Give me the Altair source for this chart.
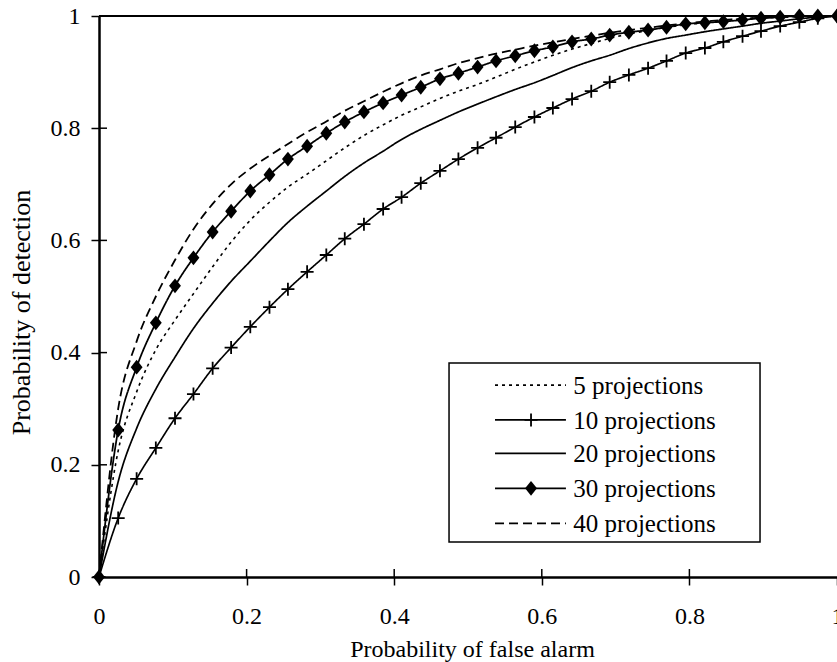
import altair as alt
import pandas as pd

# ---------------- data ----------------
series_names = ["5 projections", "10 projections", "20 projections",
                "30 projections", "40 projections"]

fpa = [0.000, 0.026, 0.051, 0.077, 0.103, 0.128, 0.154, 0.179, 0.205, 0.231,
       0.256, 0.282, 0.308, 0.333, 0.359, 0.385, 0.410, 0.436, 0.462, 0.487,
       0.513, 0.538, 0.564, 0.590, 0.615, 0.641, 0.667, 0.692, 0.718, 0.744,
       0.769, 0.795, 0.821, 0.846, 0.872, 0.897, 0.923, 0.949, 0.974, 1.000]

pd_5 = [0.000, 0.225, 0.330, 0.405, 0.458, 0.505, 0.553, 0.597, 0.636, 0.668,
        0.695, 0.718, 0.742, 0.765, 0.787, 0.806, 0.823, 0.838, 0.853, 0.866,
        0.878, 0.891, 0.905, 0.918, 0.930, 0.941, 0.951, 0.960, 0.968, 0.974,
        0.980, 0.984, 0.988, 0.992, 0.995, 0.997, 0.998, 0.999, 1.000, 1.000]

pd_10 = [0.000, 0.105, 0.175, 0.230, 0.283, 0.326, 0.372, 0.409, 0.446, 0.481,
         0.513, 0.544, 0.574, 0.603, 0.629, 0.656, 0.677, 0.702, 0.724, 0.745,
         0.765, 0.783, 0.802, 0.820, 0.836, 0.852, 0.866, 0.882, 0.895, 0.907,
         0.920, 0.934, 0.943, 0.954, 0.964, 0.973, 0.982, 0.989, 0.996, 1.000]

pd_20 = [0.000, 0.170, 0.265, 0.335, 0.392, 0.443, 0.488, 0.527, 0.563, 0.599,
         0.632, 0.661, 0.688, 0.714, 0.738, 0.759, 0.780, 0.798, 0.814, 0.829,
         0.843, 0.856, 0.869, 0.881, 0.894, 0.908, 0.920, 0.930, 0.942, 0.952,
         0.960, 0.966, 0.972, 0.977, 0.982, 0.987, 0.991, 0.995, 0.998, 1.000]

pd_30 = [0.000, 0.262, 0.374, 0.453, 0.519, 0.569, 0.615, 0.652, 0.688, 0.717,
         0.745, 0.768, 0.791, 0.811, 0.829, 0.845, 0.859, 0.873, 0.888, 0.898,
         0.909, 0.920, 0.929, 0.938, 0.945, 0.954, 0.959, 0.966, 0.971, 0.975,
         0.980, 0.986, 0.988, 0.990, 0.993, 0.996, 0.998, 1.000, 1.000, 1.000]

pd_40 = [0.000, 0.300, 0.420, 0.500, 0.565, 0.620, 0.665, 0.700, 0.728, 0.751,
         0.772, 0.793, 0.812, 0.831, 0.848, 0.865, 0.880, 0.894, 0.905, 0.916,
         0.925, 0.933, 0.940, 0.947, 0.953, 0.959, 0.965, 0.970, 0.975, 0.979,
         0.983, 0.987, 0.990, 0.993, 0.995, 0.997, 0.998, 0.999, 1.000, 1.000]

tick_values = [0, 0.2, 0.4, 0.6, 0.8, 1]

# ---------------- layout / style ----------------
W, H = 738, 561
FONT = "Liberation Serif"
dash_range = [[3, 4], [1, 0], [1, 0], [1, 0], [9, 5]]
width_range = [1.6, 1.8, 1.5, 1.8, 1.8]
PLUS = "M-1,0L1,0M0,-1L0,1"
DIAMOND = "M-0.8,0L0,-1L0.8,0L0,1Z"

# legend placement (in plot data units)
leg_box = dict(x=0.4743, x2=0.8957, y=0.3815, y2=0.0624)
leg_rows = [0.342, 0.280, 0.2205, 0.158, 0.0957]
leg_line_x1, leg_line_x2, leg_marker_x, leg_text_x = 0.5366, 0.6327, 0.5854, 0.6427

rows = []
for name, vals in zip(series_names, [pd_5, pd_10, pd_20, pd_30, pd_40]):
    for xv, yv in zip(fpa, vals):
        rows.append({"series": name, "fpa": xv, "pd": yv})
df = pd.DataFrame(rows)

leg_df = pd.DataFrame({
    "series": series_names,
    "ly": leg_rows,
    "lx1": [leg_line_x1] * 5,
    "lx2": [leg_line_x2] * 5,
    "mx": [leg_marker_x] * 5,
    "tx": [leg_text_x] * 5,
})

dash_scale = alt.Scale(domain=series_names, range=dash_range)
sw_scale = alt.Scale(domain=series_names, range=width_range)

xscale = alt.Scale(domain=[0, 1], nice=False, zero=True)
yscale = alt.Scale(domain=[0, 1], nice=False, zero=True)

common_axis = dict(
    values=tick_values, format="~g", grid=False, labelFlush=False,
    domainColor="black", domainWidth=2.5,
    tickColor="black", tickWidth=1.5, tickSize=8,
    labelFont=FONT, labelFontSize=24, labelColor="black",
    titleFont=FONT, titleFontWeight="normal", titleColor="black",
)

x_axis = alt.Axis(title="Probability of false alarm", labelPadding=19,
                  titleFontSize=24, titleX=373, titleY=79,
                  titleBaseline="alphabetic", **common_axis)
y_axis = alt.Axis(title="Probability of detection", labelPadding=11,
                  titleFontSize=26, titleX=-70, titleY=296,
                  titleBaseline="alphabetic", titleAngle=270, **common_axis)

base = alt.Chart(df)

lines = base.mark_line(color="black", interpolate="monotone", clip=False).encode(
    x=alt.X("fpa:Q", scale=xscale, axis=x_axis),
    y=alt.Y("pd:Q", scale=yscale, axis=y_axis),
    strokeDash=alt.StrokeDash("series:N", scale=dash_scale, legend=None),
    strokeWidth=alt.StrokeWidth("series:N", scale=sw_scale, legend=None),
    detail="series:N",
)

plus_pts = base.transform_filter(alt.datum.series == "10 projections").mark_point(
    shape=PLUS, size=169, filled=False, color="black", strokeWidth=1.8, opacity=1
).encode(x="fpa:Q", y="pd:Q")

dia_pts = base.transform_filter(alt.datum.series == "30 projections").mark_point(
    shape=DIAMOND, size=220, filled=True, color="black", opacity=1
).encode(x="fpa:Q", y="pd:Q")

# inner halves of the crossing ticks
tick_df = pd.DataFrame({"t": tick_values[1:-1]})
x_inner = alt.Chart(tick_df).mark_rule(color="black", strokeWidth=1.5).encode(
    x="t:Q", y=alt.value(H), y2=alt.value(H - 8))
y_inner = alt.Chart(tick_df).mark_rule(color="black", strokeWidth=1.5).encode(
    y="t:Q", x=alt.value(0), x2=alt.value(8))

# top frame line
top_frame = alt.Chart(tick_df).mark_rule(color="black", strokeWidth=2).encode(
    x=alt.value(0), x2=alt.value(W), y=alt.value(0))

# legend
box_df = pd.DataFrame([leg_box])
leg_frame = alt.Chart(box_df).mark_rect(fill="white", stroke="black", strokeWidth=1.5).encode(
    x="x:Q", x2="x2:Q", y="y:Q", y2="y2:Q")

leg_base = alt.Chart(leg_df)
leg_lines = leg_base.mark_rule(color="black").encode(
    x="lx1:Q", x2="lx2:Q", y="ly:Q",
    strokeDash=alt.StrokeDash("series:N", scale=dash_scale, legend=None),
    strokeWidth=alt.StrokeWidth("series:N", scale=sw_scale, legend=None),
)
leg_plus = leg_base.transform_filter(alt.datum.series == "10 projections").mark_point(
    shape=PLUS, size=169, filled=False, color="black", strokeWidth=1.8, opacity=1
).encode(x="mx:Q", y="ly:Q")
leg_dia = leg_base.transform_filter(alt.datum.series == "30 projections").mark_point(
    shape=DIAMOND, size=220, filled=True, color="black", opacity=1
).encode(x="mx:Q", y="ly:Q")
leg_text = leg_base.mark_text(align="left", baseline="middle", font=FONT,
                              fontSize=25, color="black", dy=1).encode(
    x="tx:Q", y="ly:Q", text="series:N")

chart = alt.layer(
    top_frame, lines, plus_pts, dia_pts, x_inner, y_inner,
    leg_frame, leg_lines, leg_plus, leg_dia, leg_text
).properties(
    width=W, height=H,
    padding={"left": 99, "top": 16, "right": 0, "bottom": 85},
    autosize=alt.AutoSizeParams(type="none"),
    background="white",
).configure(
    font=FONT
).configure_view(
    strokeWidth=0
).configure_axis(
    labelFont=FONT, titleFont=FONT
).configure_text(
    font=FONT
)

chart.save("out.html", embed_options={"renderer": "svg", "actions": False})
